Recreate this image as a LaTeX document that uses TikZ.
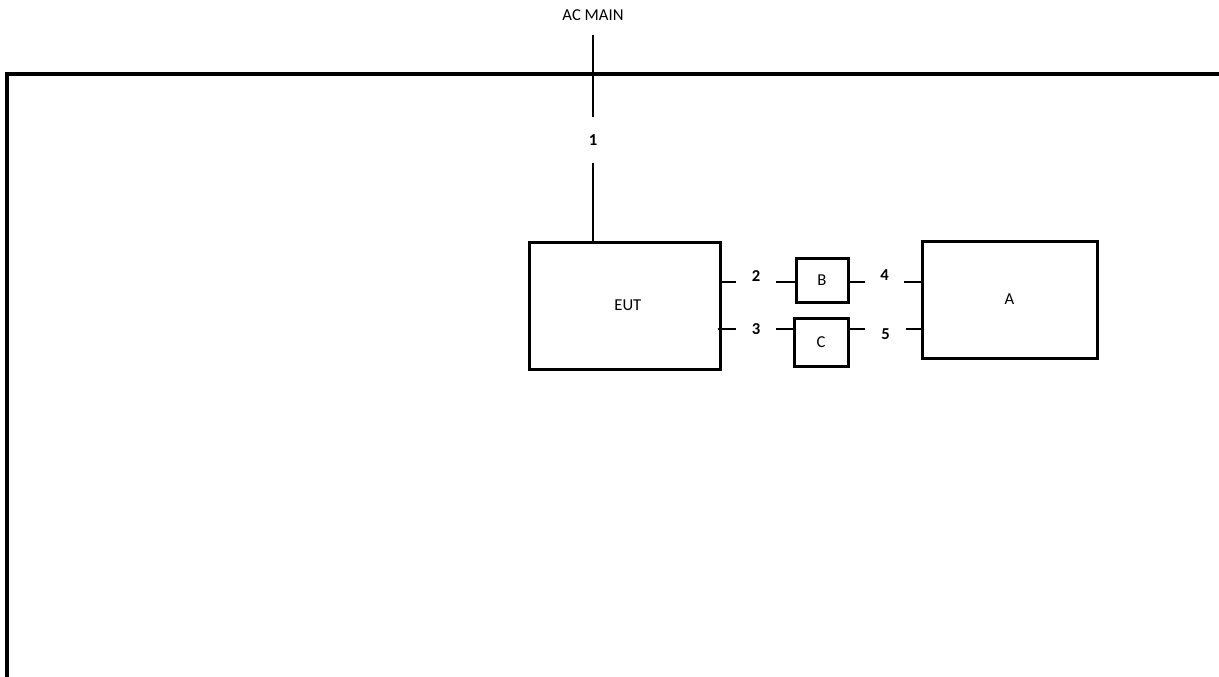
\documentclass[tikz,border=0pt]{standalone}
\usepackage{fontspec}
\setmainfont{Carlito}
\usepackage{tikz}
\usetikzlibrary{positioning,calc}

\begin{document}
\begin{tikzpicture}[x=0.75pt, y=-0.75pt, font=\fontsize{12.5}{15}\selectfont,
  blk/.style={draw, line width=2.25pt, inner sep=0pt},
  num/.style={font=\fontsize{12.5}{15}\selectfont\bfseries, inner sep=0pt},
  wire/.style={line width=1.5pt}]
  \useasboundingbox (0,0) rectangle (1219,677);
  \clip (0,0) rectangle (1219,677);
  % enclosure
  \draw[line width=2.4pt] (7,700) -- (7,74) -- (1240,74);
  % units
  \node[blk, minimum width=143.25pt, minimum height=95.25pt] (eut) at (624.5,305.5) {\hspace*{5pt}EUT};
  \node[blk, minimum width=39pt, minimum height=33pt] (b) at (822,280) {B};
  \node[blk, minimum width=40.5pt, minimum height=36pt] (c) at (821,342) {C};
  \node[blk, minimum width=131.25pt, minimum height=87.75pt] (a) at (1009.5,299.5) {A};
  % cable numbers
  \node (acmain) at (593,15) {AC MAIN};
  \coordinate (acin) at (593,35);
  \node[num, minimum height=34.5pt] (n1) at (593,140) {1};
  \node[num, minimum width=29.25pt] (n2) at (756,276) {2};
  \node[num, minimum width=29.25pt] (n3) at (756,329) {3};
  \node[num, minimum width=29.25pt] (n4) at (884.5,275) {4};
  \node[num, minimum width=30.75pt] (n5) at (885.5,334) {5};
  \coordinate (r2) at (0,282);
  \coordinate (r3) at (0,329);
  % cables
  \draw[wire] (acin) -- (n1.north);
  \draw[wire] (n1.south) -- (eut.north -| n1);
  \draw[wire] (eut.east |- r2) -- (n2.west |- r2);
  \draw[wire] (n2.east |- r2) -- (b.west |- r2);
  \draw[wire] (b.east |- r2) -- (n4.west |- r2);
  \draw[wire] (n4.east |- r2) -- (a.west |- r2);
  \draw[wire] ($(eut.east |- r3)+(-4,0)$) -- (n3.west |- r3);
  \draw[wire] (n3.east |- r3) -- (c.west |- r3);
  \draw[wire] (c.east |- r3) -- (n5.west |- r3);
  \draw[wire] (n5.east |- r3) -- (a.west |- r3);
\end{tikzpicture}
\end{document}
